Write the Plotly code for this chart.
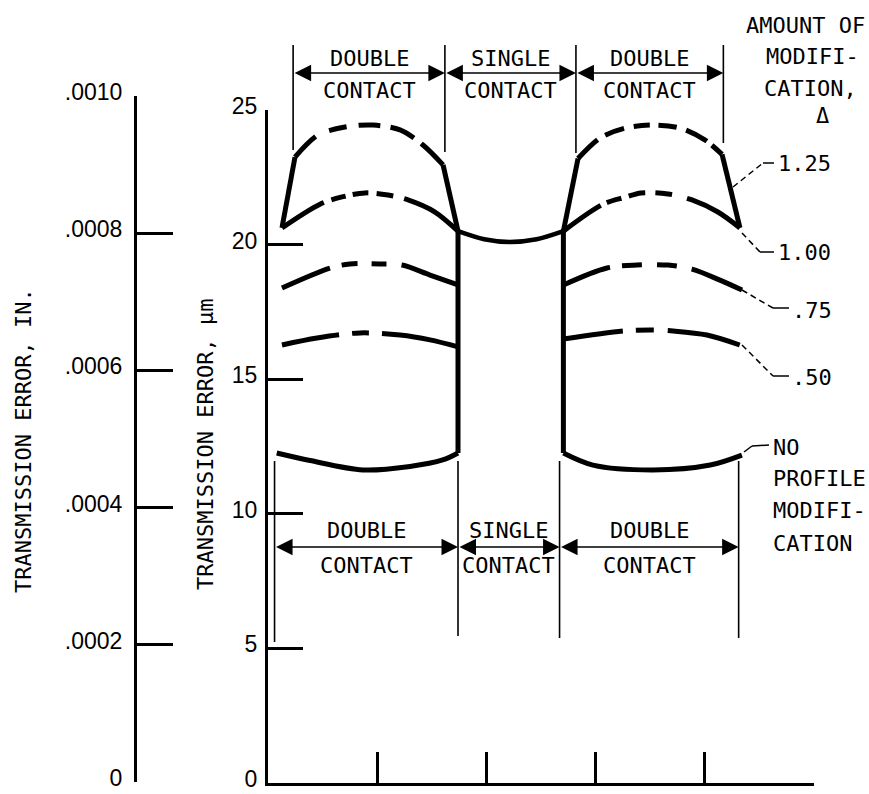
import plotly.graph_objects as go

# ---------------- data ----------------
um_ticks = [0, 5, 10, 15, 20, 25]
in_ticks = [0, 0.0002, 0.0004, 0.0006, 0.0008, 0.0010]
in_tick_text = ["0", ".0002", ".0004", ".0006", ".0008", ".0010"]
x_ticks = [1, 2, 3, 4, 5]

# contact-zone boundaries (x units)
top_bounds = [0.23, 1.62, 2.82, 4.17]
bottom_bounds = [0.06, 1.74, 2.67, 4.31]
zone_upper = ["DOUBLE", "SINGLE", "DOUBLE"]
zone_lower = ["CONTACT", "CONTACT", "CONTACT"]

# no profile modification (solid)
nomod_left_x = [0.08, 0.385, 0.87, 1.30, 1.60, 1.74]
nomod_left_y = [12.26, 11.98, 11.63, 11.76, 12.00, 12.26]
nomod_right_x = [2.705, 2.976, 3.526, 4.05, 4.34]
nomod_right_y = [12.26, 11.81, 11.63, 11.81, 12.18]
# single-contact portion
single_x = [1.74, 1.98, 2.21, 2.46, 2.705]
single_y = [20.50, 20.20, 20.10, 20.20, 20.50]

# modified profiles, amount of modification Delta
d050_left_x = [0.128, 0.449, 0.842, 1.209, 1.484, 1.74]
d050_left_y = [16.27, 16.53, 16.72, 16.64, 16.46, 16.20]
d050_right_x = [2.705, 3.25, 3.53, 3.71, 4.02, 4.32]
d050_right_y = [16.49, 16.79, 16.83, 16.79, 16.64, 16.27]

d075_left_x = [0.128, 0.568, 0.751, 1.026, 1.227, 1.484, 1.74]
d075_left_y = [18.39, 19.13, 19.28, 19.28, 19.24, 18.87, 18.50]
d075_right_x = [2.705, 3.104, 3.379, 3.663, 3.883, 4.139, 4.341]
d075_right_y = [18.50, 19.13, 19.24, 19.24, 19.09, 18.68, 18.31]

d100_left_x = [0.128, 0.476, 0.678, 0.888, 1.099, 1.282, 1.529, 1.74]
d100_left_y = [20.62, 21.50, 21.77, 21.92, 21.84, 21.66, 21.21, 20.50]
d100_right_x = [2.705, 3.068, 3.27, 3.416, 3.663, 3.883, 4.12, 4.322]
d100_right_y = [20.50, 21.50, 21.76, 21.92, 21.88, 21.66, 21.21, 20.62]

d125_left_x = [0.128, 0.247, 0.458, 0.705, 0.962, 1.209, 1.419, 1.603, 1.74]
d125_left_y = [20.62, 23.25, 24.07, 24.37, 24.44, 24.26, 23.70, 22.96, 20.50]
d125_right_x = [2.705, 2.839, 3.04, 3.27, 3.526, 3.773, 4.0, 4.158, 4.322]
d125_right_y = [20.50, 23.20, 23.96, 24.33, 24.44, 24.33, 23.89, 23.35, 20.62]

mod_labels = ["1.25", "1.00", ".75", ".50"]

# ---------------- geometry ----------------
W, H = 869, 794
PX_X0, PX_X5 = 268, 814
PX_Y0, PX_Y25 = 783, 110
PX_IN0, PX_IN10 = 782, 96
PX_INAX = 135
sx = (PX_X5 - PX_X0) / 5.0
sy = (PX_Y0 - PX_Y25) / 25.0


def ox(px):
    return (px - PX_X0) / sx


def oy(py):
    return (PX_Y0 - py) / sy


MONO = "DejaVu Sans Mono"
FS = 22
TXT = dict(family=MONO, size=FS, color="black")

fig = go.Figure()


def add_curve(x, y, dash="solid", shape="spline", width=5):
    fig.add_trace(go.Scatter(
        x=x, y=y, mode="lines", xaxis="x", yaxis="y",
        line=dict(color="black", width=width, shape=shape, smoothing=0.9, dash=dash),
        hoverinfo="skip", showlegend=False))


# no modification + single contact + transitions
add_curve(nomod_left_x, nomod_left_y)
add_curve(nomod_right_x, nomod_right_y)
add_curve(single_x, single_y, width=4.5)
add_curve([nomod_left_x[-1], single_x[0]], [nomod_left_y[-1], single_y[0]], shape="linear")
add_curve([nomod_right_x[0], single_x[-1]], [nomod_right_y[0], single_y[-1]], shape="linear")

# 0.50
add_curve(d050_left_x, d050_left_y, dash="58px,13px,17px,13px,300px")
add_curve(d050_right_x, d050_right_y, dash="60px,13px,18px,14px,300px")
# 0.75
add_curve(d075_left_x, d075_left_y, dash="52px,12px,16px,14px,15px,15px,300px")
add_curve(d075_right_x, d075_right_y, dash="50px,12px,20px,15px,20px,15px,300px")
# 1.00
add_curve(d100_left_x, d100_left_y, dash="49px,8px,15px,7px,16px,8px,17px,11px,300px")
add_curve(d100_right_x, d100_right_y, dash="45px,7px,15px,8px,17px,10px,17px,15px,300px")
# 1.25 : steep flanks solid, arc dashed
for xs, ys, pat in [
    (d125_left_x, d125_left_y, "29px,15px,18px,12px,22px,10px,26px,9px,300px"),
    (d125_right_x, d125_right_y, "27px,9px,20px,10px,16px,9px,18px,10px,24px,6px,300px"),
]:
    add_curve(xs[:2], ys[:2], shape="linear")
    add_curve(xs[1:-1], ys[1:-1], dash=pat)
    add_curve(xs[-2:], ys[-2:], shape="linear")

# dummy traces so the inch axis and the overlay axes exist
fig.add_trace(go.Scatter(x=[0], y=[0], xaxis="x", yaxis="y2", mode="lines",
                         showlegend=False, hoverinfo="skip"))
fig.add_trace(go.Scatter(x=[0], y=[0], xaxis="x2", yaxis="y3", mode="lines",
                         showlegend=False, hoverinfo="skip"))

shapes = []
annotations = []


def vline(x, y0, y1, width=1.6):
    shapes.append(dict(type="line", xref="x2", yref="y3", x0=x, x1=x, y0=y0, y1=y1,
                       line=dict(color="black", width=width)))


def seg(p0, p1, dash="solid", width=1.5):
    shapes.append(dict(type="line", xref="x2", yref="y3",
                       x0=ox(p0[0]), y0=oy(p0[1]), x1=ox(p1[0]), y1=oy(p1[1]),
                       line=dict(color="black", width=width, dash=dash)))


def text(s, px, py, xanchor="center"):
    annotations.append(dict(text=s, x=ox(px), y=oy(py), xref="x2", yref="y3",
                            showarrow=False, xanchor=xanchor, yanchor="middle",
                            font=TXT))


def dim_block(bounds, y_top, y_arrow, y_up, y_low, bottoms):
    for i, b in enumerate(bounds):
        vline(b, oy(y_top), oy(bottoms[i]))
    for i in range(len(bounds) - 1):
        annotations.append(dict(
            x=bounds[i + 1], y=oy(y_arrow), ax=bounds[i], ay=oy(y_arrow),
            xref="x2", yref="y3", axref="x2", ayref="y3", text="",
            showarrow=True, arrowside="end+start", arrowhead=2, arrowsize=2.2,
            arrowwidth=1.5, arrowcolor="black", standoff=0, startstandoff=0))
        mid = (bounds[i] + bounds[i + 1]) / 2
        annotations.append(dict(text=zone_upper[i], x=mid, y=oy(y_up), xref="x2", yref="y3",
                                showarrow=False, font=TXT, yanchor="middle"))
        annotations.append(dict(text=zone_lower[i], x=mid, y=oy(y_low), xref="x2", yref="y3",
                                showarrow=False, font=TXT, yanchor="middle"))


dim_block(top_bounds, 45, 73, 58, 90, bottoms=[150, 152, 153, 143])
dim_block(bottom_bounds, 461, 547, 530, 565, bottoms=[642, 636, 638, 638])

# leader lines
seg((733, 187), (763, 163), dash="6px,4px")
seg((763, 163), (774, 163))
seg((742, 233), (760, 252), dash="6px,4px")
seg((760, 252), (774, 252))
seg((742, 290), (773, 308), dash="6px,4px")
seg((773, 308), (789, 308))
seg((742, 345), (773, 376), dash="6px,4px")
seg((773, 376), (789, 376))
seg((744, 452), (752, 446))
seg((752, 446), (769, 445))

text(mod_labels[0], 776, 163, "left")
text(mod_labels[1], 776, 252, "left")
text(mod_labels[2], 790, 310, "left")
text(mod_labels[3], 790, 377, "left")
text("NO", 771, 447, "left")
text("PROFILE", 771, 478, "left")
text("MODIFI-", 771, 510, "left")
text("CATION", 771, 543, "left")

text("AMOUNT OF", 805, 25)
text("MODIFI-", 812, 56)
text("CATION,", 810, 88)
text("Δ", 822, 115)

# axis titles
annotations.append(dict(text="TRANSMISSION ERROR, IN.", x=ox(23), y=oy(441), xref="x2", yref="y3",
                        showarrow=False, textangle=-90, font=TXT))
annotations.append(dict(text="TRANSMISSION ERROR, μm", x=ox(205), y=oy(445), xref="x2", yref="y3",
                        showarrow=False, textangle=-90, font=TXT))

TICKFONT = dict(family="Liberation Sans", size=23, color="black")

fig.update_layout(
    width=W, height=H, autosize=False,
    margin=dict(l=0, r=0, t=0, b=0, pad=0),
    paper_bgcolor="white", plot_bgcolor="rgba(0,0,0,0)",
    showlegend=False,
    xaxis=dict(domain=[PX_X0 / W, PX_X5 / W], range=[0, 5], anchor="y",
               showline=True, linewidth=3, linecolor="black",
               ticks="inside", ticklen=31, tickwidth=3, tickcolor="black",
               tickvals=x_ticks, showticklabels=False, showgrid=False, zeroline=False,
               automargin=False, fixedrange=True),
    yaxis=dict(domain=[(H - PX_Y0) / H, (H - PX_Y25) / H], range=[0, 25], anchor="x",
               showline=True, linewidth=3, linecolor="black",
               ticks="inside", ticklen=35, tickwidth=3, tickcolor="black",
               tickvals=um_ticks, tickfont=TICKFONT, ticklabelstandoff=3,
               ticklabeloverflow="allow", ticklabelshift=-4,
               showgrid=False, zeroline=False, automargin=False, fixedrange=True),
    yaxis2=dict(domain=[(H - PX_IN0) / H, (H - PX_IN10) / H], range=[0, 0.0010],
                anchor="free", position=PX_INAX / W, side="left",
                showline=True, linewidth=3, linecolor="black",
                ticks="inside", ticklen=36, tickwidth=3, tickcolor="black",
                tickvals=in_ticks, ticktext=in_tick_text, tickfont=TICKFONT,
                ticklabelstandoff=7, ticklabeloverflow="allow", ticklabelshift=-4,
                showgrid=False, zeroline=False, automargin=False, fixedrange=True),
    xaxis2=dict(domain=[0, 1], range=[ox(0), ox(W)], anchor="y3", visible=False,
                fixedrange=True),
    yaxis3=dict(domain=[0, 1], range=[oy(H), oy(0)], anchor="x2", visible=False,
                fixedrange=True),
    shapes=shapes,
    annotations=annotations,
)

fig.write_html(
    "out.html",
    config={"displayModeBar": False},
    post_script="document.body.style.margin='0';document.body.style.overflow='hidden';",
)
